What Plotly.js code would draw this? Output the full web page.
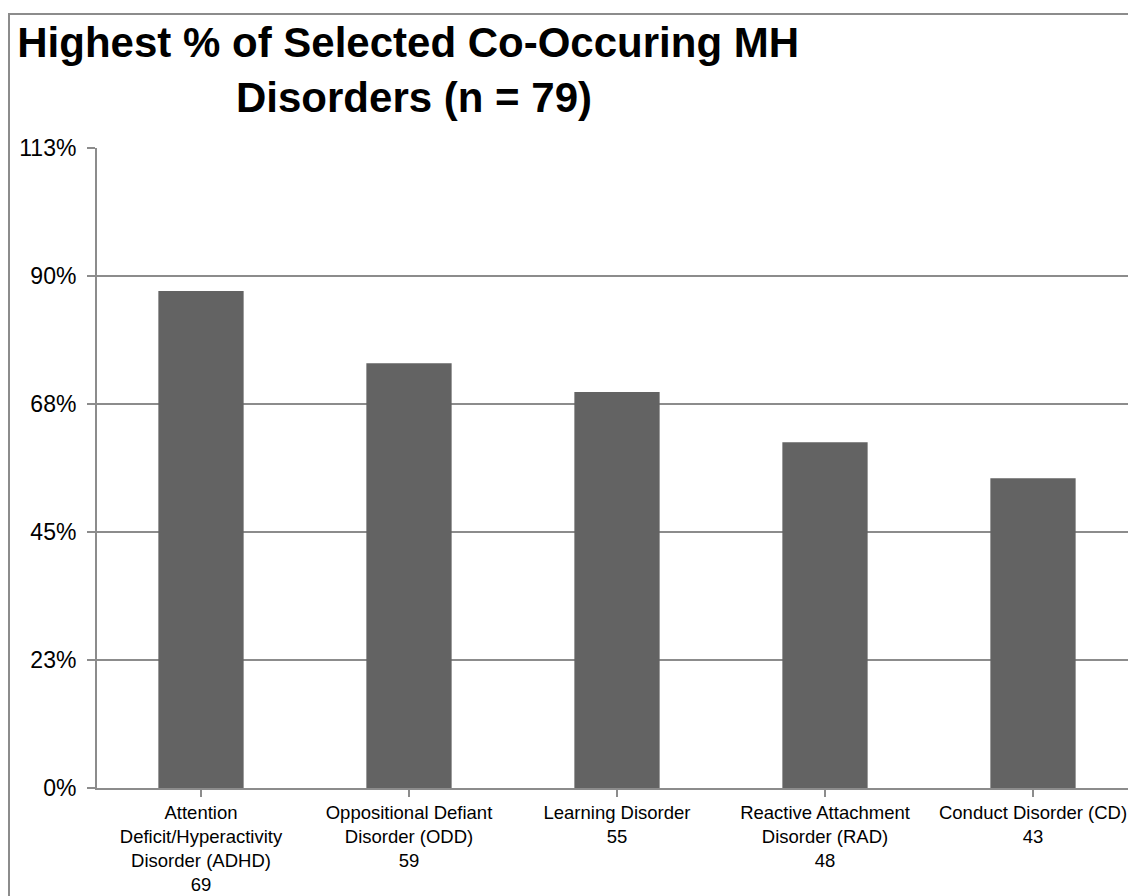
<!DOCTYPE html>
<html>
<head>
<meta charset="utf-8">
<script src="https://cdn.plot.ly/plotly-3.0.1.min.js"></script>
<style>
  html, body { margin: 0; padding: 0; background: #ffffff; overflow: hidden; }
  #wrap { position: relative; width: 1128px; height: 896px; overflow: hidden; }
  #chart { position: absolute; left: 0; top: 0; width: 1145px; height: 910px; }
  #frame { position: absolute; left: 8px; top: 13px; width: 1200px; height: 1000px;
           border: 2px solid #8c8c8c; pointer-events: none; }
</style>
</head>
<body>
<div id="wrap">
  <div id="chart"></div>
  <div id="frame"></div>
</div>
<script>
// Data
var n = 79;
var categories = [
  "Attention<br>Deficit/Hyperactivity<br>Disorder (ADHD)",
  "Oppositional Defiant<br>Disorder (ODD)",
  "Learning Disorder",
  "Reactive Attachment<br>Disorder (RAD)",
  "Conduct Disorder (CD)"
];
var counts = [69, 59, 55, 48, 43];
var percents = counts.map(function (c) { return c / n * 100; });
var tickLabels = categories.map(function (c, i) { return c + "<br>" + counts[i]; });
var yTickVals = [0, 22.5, 45, 67.5, 90, 112.5];
var yTickText = ["0%", "23%", "45%", "68%", "90%", "113%"];

var trace = {
  type: "bar",
  x: [0, 1, 2, 3, 4],
  y: percents,
  marker: { color: "#636363", line: { width: 0 } },
  hoverinfo: "none"
};

var layout = {
  width: 1145,
  height: 910,
  margin: { l: 97, r: 8, t: 148, b: 122, pad: 0 },
  paper_bgcolor: "#ffffff",
  plot_bgcolor: "#ffffff",
  showlegend: false,
  bargap: 0.59,
  font: { family: "Arial, 'Liberation Sans', sans-serif", color: "#000000" },
  title: {
    text: "<b>Highest % of Selected Co-Occuring MH </b><br><b>Disorders (n = 79)</b>",
    font: { family: "Arial, 'Liberation Sans', sans-serif", size: 42, color: "#000000" },
    xref: "container", x: 414 / 1145, xanchor: "center",
    yref: "container", y: 1 - 57 / 910, yanchor: "top"
  },
  xaxis: {
    type: "linear",
    range: [-0.5, 4.5],
    tickmode: "array",
    tickvals: [0, 1, 2, 3, 4],
    ticktext: tickLabels,
    tickson: "boundaries",
    showgrid: false,
    zeroline: false,
    showline: true, linecolor: "#8c8c8c", linewidth: 2,
    ticks: "outside", ticklen: 7, tickwidth: 2, tickcolor: "#8c8c8c",
    tickfont: { size: 18.5, color: "#000000" },
    fixedrange: true
  },
  yaxis: {
    range: [0, 112.5],
    tickmode: "array",
    tickvals: yTickVals,
    ticktext: yTickText,
    showgrid: true, gridcolor: "#8c8c8c", gridwidth: 2,
    zeroline: false,
    showline: true, linecolor: "#8c8c8c", linewidth: 2,
    ticks: "outside", ticklen: 8, tickwidth: 2, tickcolor: "#8c8c8c",
    tickfont: { size: 23, color: "#000000" },
    ticklabelstandoff: 6,
    fixedrange: true
  }
};

Plotly.newPlot("chart", [trace], layout, { staticPlot: true, displayModeBar: false });
</script>
</body>
</html>
